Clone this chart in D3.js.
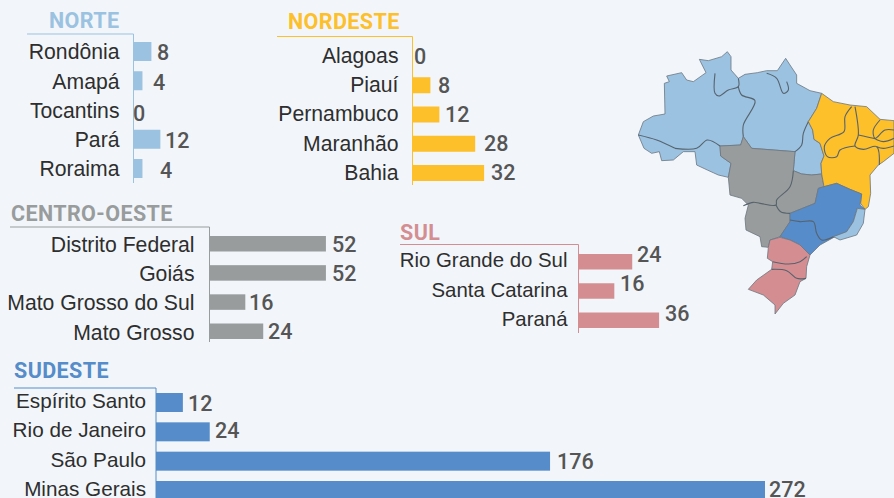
<!DOCTYPE html>
<html lang="pt">
<head>
  <meta charset="UTF-8">
  <title>Regiões do Brasil</title>
  <style>
    body { margin: 0; overflow: hidden; background: #f2f6fa; }
    svg { display: block; font-family: Roboto, sans-serif; }
    .state text { fill: #2e2e2e; }
    .value { font-size: 21.5px; font-weight: 500; fill: #555; }
    .title { font-size: 21.5px; font-weight: 700; letter-spacing: 0.4px; }
    .map-line { fill: none; stroke: #56636e; stroke-width: 1.1; }
  </style>
</head>
<body>
  <script src="https://d3js.org/d3.v7.min.js"></script>
  <script>
    // data
    const norteStates = ["Rondônia", "Amapá", "Tocantins", "Pará", "Roraima"];
    const norteValues = [8, 4, 0, 12, 4];
    const nordesteStates = ["Alagoas", "Piauí", "Pernambuco", "Maranhão", "Bahia"];
    const nordesteValues = [0, 8, 12, 28, 32];
    const centroStates = ["Distrito Federal", "Goiás", "Mato Grosso do Sul", "Mato Grosso"];
    const centroValues = [52, 52, 16, 24];
    const sulStates = ["Rio Grande do Sul", "Santa Catarina", "Paraná"];
    const sulValues = [24, 16, 36];
    const sudesteStates = ["Espírito Santo", "Rio de Janeiro", "São Paulo", "Minas Gerais"];
    const sudesteValues = [12, 24, 176, 272];

    // map outlines in a 822x870 grid
    const mapNorte = [[55,285],[70,245],[100,228],[135,222],[133,130],[148,125],[140,108],[185,98],[200,120],[220,125],[258,98],[238,58],[265,62],[305,50],[322,35],[333,50],[333,90],[355,115],[375,103],[412,98],[440,92],[472,92],[497,55],[510,75],[530,105],[530,130],[570,152],[605,160],[590,205],[565,245],[578,270],[582,298],[600,310],[612,348],[603,370],[605,402],[575,405],[545,402],[520,392],[525,335],[395,325],[370,290],[362,315],[300,318],[302,348],[333,370],[325,412],[295,405],[262,390],[230,375],[225,335],[190,335],[160,360],[125,362],[118,335],[95,340],[72,325]];
    const mapNordeste = [[605,160],[640,185],[690,195],[740,200],[780,238],[822,242],[822,340],[790,365],[775,375],[750,405],[752,460],[745,500],[735,508],[722,490],[725,462],[690,448],[650,430],[612,440],[605,402],[603,370],[612,348],[600,310],[582,298],[578,270],[565,245],[590,205]];
    const mapCentro = [[300,318],[362,315],[370,290],[395,325],[525,335],[520,392],[545,402],[575,405],[605,402],[612,440],[595,445],[585,490],[510,520],[510,545],[480,590],[450,600],[445,622],[425,620],[420,590],[378,570],[375,535],[385,495],[365,475],[330,465],[325,412],[333,370],[302,348]];
    const mapSudeste = [[595,445],[612,440],[650,430],[690,448],[725,462],[720,495],[735,508],[712,505],[700,545],[680,575],[645,590],[600,615],[570,645],[540,615],[510,600],[480,590],[510,545],[510,520],[585,490]];
    const mapCosta = [[712,505],[735,508],[730,550],[710,585],[660,600],[640,590],[680,575],[700,545]];
    const mapSul = [[480,592],[510,600],[540,615],[570,645],[560,680],[558,715],[540,725],[525,765],[490,790],[465,822],[465,795],[430,765],[385,748],[410,720],[455,688],[458,665],[442,655],[445,622],[450,600]];
    const mapBorders = [
      [[55,285],[110,300],[165,325]],
      [[165,325],[230,325],[262,300],[300,318]],
      [[285,100],[285,160],[297,168],[325,150],[355,140],[355,115]],
      [[355,140],[365,165],[405,182],[370,255],[370,290]],
      [[440,100],[470,115],[490,160],[505,150],[500,125]],
      [[565,245],[550,280],[545,315],[525,335]],
      [[695,200],[675,230],[672,275],[630,295],[613,320],[622,350],[650,350],[660,330],[705,318]],
      [[705,200],[715,285],[705,318],[730,328],[770,320],[778,375]],
      [[715,285],[760,295],[790,305],[822,295]],
      [[780,240],[760,270],[765,295],[795,270],[822,270]],
      [[770,320],[790,325],[822,318]],
      [[520,392],[510,440],[470,480],[468,495],[420,490],[400,487],[370,497]],
      [[468,495],[482,515],[510,520]],
      [[510,540],[540,545],[580,545],[590,580],[605,600],[640,590]],
      [[458,665],[505,672],[540,665],[560,650]],
      [[455,688],[500,692],[530,715],[558,715]]
    ];

    // layout of the five small charts
    const panels = [
      { title: "NORTE", states: norteStates, values: norteValues, color: "#9bc2e1",
        axisX: 133.5, ruleY: 34, ruleX: 27, axisEnd: 183, barTop: 42, barBottom: 178, barH: 19, titleX: 49, titleY: 28, labelGap: 14, labelDy: 1, labelSize: 21.2,
        valueX: [157, 153, 133, 165, 160], valueY: [60, 90, 121, 148, 178] },
      { title: "NORDESTE", states: nordesteStates, values: nordesteValues, color: "#fdbf2a",
        axisX: 412.5, ruleY: 36.5, ruleX: 277, axisEnd: 185, barTop: 48, barBottom: 181, barH: 16, titleX: 288, titleY: 29, labelGap: 14, labelDy: 0, labelSize: 21.2,
        valueX: [414, 438, 445, 484, 491], valueY: [64, 93, 122, 151, 180] },
      { title: "CENTRO-OESTE", states: centroStates, values: centroValues, color: "#999c9c",
        axisX: 209.5, ruleY: 227, ruleX: 10, axisEnd: 342, barTop: 236, barBottom: 339, barH: 15.5, titleX: 11, titleY: 221, labelGap: 15, labelDy: 1.5, labelSize: 21.2,
        valueX: [332, 332, 249, 268], valueY: [252, 281, 310, 339] },
      { title: "SUL", states: sulStates, values: sulValues, color: "#d48e92",
        axisX: 578.5, ruleY: 244.5, ruleX: 400, axisEnd: 333, barTop: 254, barBottom: 328, barH: 15.5, titleX: 400, titleY: 240, labelGap: 11, labelDy: -1, labelSize: 20.4,
        valueX: [637, 620, 665], valueY: [262, 291, 321] },
      { title: "SUDESTE", states: sudesteStates, values: sudesteValues, color: "#558cc9",
        axisX: 156, ruleY: 388, ruleX: 14, axisEnd: 498, barTop: 393, barBottom: 500, barH: 19, titleX: 14, titleY: 378, labelGap: 10, labelDy: -1, labelSize: 20.7,
        valueX: [188, 215, 557, 769], valueY: [411, 438, 469, 497] }
    ];

    const width = 894, height = 498;
    const svg = d3.select("body").append("svg").attr("width", width).attr("height", height);

    // same scale in every panel
    const x = d3.scaleLinear().domain([0, 272]).range([0, 609]);

    panels.forEach(p => {
      const rows = p.states.map((s, i) => ({ state: s, value: p.values[i], vx: p.valueX[i], vy: p.valueY[i] }));
      const step = (p.barBottom - p.barTop - p.barH) / (rows.length - 1);
      const y = d3.scaleBand().domain(p.states).range([p.barTop, p.barBottom]).paddingInner(1 - p.barH / step);
      const g = svg.append("g");

      g.selectAll("rect").data(rows).join("rect")
        .attr("x", p.axisX)
        .attr("y", d => y(d.state))
        .attr("width", d => x(d.value))
        .attr("height", y.bandwidth())
        .attr("fill", p.color);

      g.append("path")
        .attr("d", `M${p.ruleX},${p.ruleY}H${p.axisX}V${p.axisEnd}`)
        .attr("fill", "none")
        .attr("stroke", p.color)
        .attr("stroke-width", 1);

      const axis = g.append("g").attr("class", "state")
        .attr("transform", `translate(${p.axisX},${p.labelDy})`)
        .call(d3.axisLeft(y).tickSize(0).tickPadding(p.labelGap));
      axis.select(".domain").remove();
      axis.selectAll("text").style("font-size", p.labelSize + "px");

      g.selectAll(".value").data(rows).join("text")
        .attr("class", "value")
        .attr("x", d => d.vx)
        .attr("y", d => d.vy)
        .text(d => d.value);

      g.append("text")
        .attr("class", "title")
        .attr("x", p.titleX)
        .attr("y", p.titleY)
        .attr("fill", p.color)
        .text(p.title);
    });

    // map
    const mapX = d3.scaleLinear().domain([0, 822]).range([620, 894]);
    const mapY = d3.scaleLinear().domain([0, 870]).range([40, 330]);
    const mapLine = d3.line().x(d => mapX(d[0])).y(d => mapY(d[1]));
    const map = svg.append("g");
    const regions = [
      [mapNorte, "#9bc2e1"], [mapCentro, "#999c9c"], [mapNordeste, "#fdbf2a"],
      [mapSudeste, "#558cc9"], [mapCosta, "#9bc2e1"], [mapSul, "#d48e92"]
    ];
    map.selectAll("path.region").data(regions).join("path")
      .attr("class", "region")
      .attr("d", d => mapLine(d[0]) + "Z")
      .attr("fill", d => d[1])
      .attr("stroke", "#6b7680")
      .attr("stroke-width", 0.8)
      .attr("stroke-linejoin", "round");
    map.selectAll("path.map-line").data(mapBorders).join("path")
      .attr("class", "map-line")
      .attr("d", d => d3.line().curve(d3.curveCatmullRom).x(p => mapX(p[0])).y(p => mapY(p[1]))(d));
  </script>
</body>
</html>
